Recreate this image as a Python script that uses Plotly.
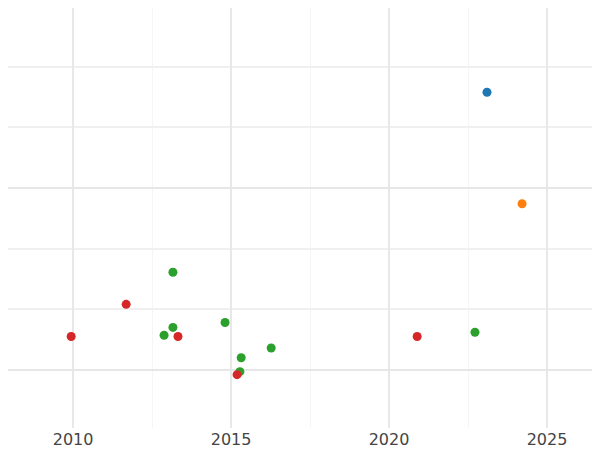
import plotly.graph_objects as go

# points, grouped by colour
blue_x = [2023.10]
blue_y = [4.58]
orange_x = [2024.21]
orange_y = [2.74]
green_x = [2013.16, 2012.88, 2013.16, 2014.81, 2015.32, 2015.28, 2016.27, 2022.72]
green_y = [1.61, 0.57, 0.70, 0.78, 0.20, -0.03, 0.36, 0.62]
red_x = [2009.94, 2011.68, 2013.32, 2015.19, 2020.89]
red_y = [0.55, 1.08, 0.55, -0.08, 0.55]

series = [
    (blue_x, blue_y, "#1f77b4"),
    (orange_x, orange_y, "#ff7f0e"),
    (green_x, green_y, "#2ca02c"),
    (red_x, red_y, "#d62728"),
]

fig = go.Figure()
for xs, ys, col in series:
    fig.add_trace(go.Scatter(x=xs, y=ys, mode="markers",
                             marker=dict(color=col, size=9), showlegend=False))

fig.update_layout(
    template="plotly_white",
    width=600, height=450,
    margin=dict(l=0, r=0, t=0, b=30, autoexpand=False),
    font=dict(family="DejaVu Sans", size=16, color="#444"),
    xaxis=dict(range=[2007.94, 2026.93], dtick=5, tick0=2010,
               gridcolor="#e8e8e8", gridwidth=2, zeroline=False,
               minor=dict(dtick=2.5, showgrid=True, gridcolor="#f5f5f5", gridwidth=1)),
    yaxis=dict(range=[-0.96, 5.97], dtick=3, tick0=0, showticklabels=False,
               gridcolor="#e6e6e6", gridwidth=2, zeroline=False,
               minor=dict(dtick=1, showgrid=True, gridcolor="#f0f0f0")),
)

fig.write_html("out.html")
